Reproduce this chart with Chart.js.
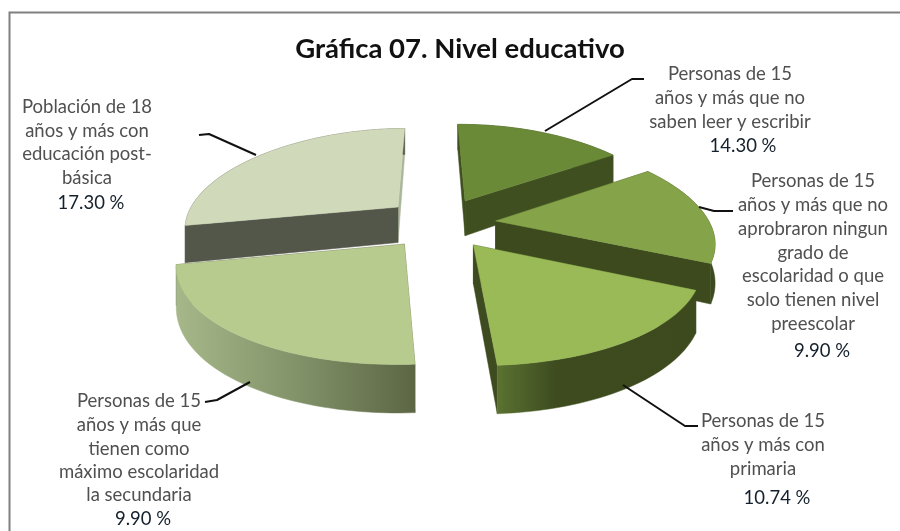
<!DOCTYPE html>
<html lang="es">
<head>
<meta charset="utf-8">
<title>Gráfica 07. Nivel educativo</title>
<script src="https://cdn.jsdelivr.net/npm/chart.js@4"></script>
<style>
html,body{margin:0;padding:0;background:#fff;overflow:hidden}
#box{position:absolute;left:0;top:0;width:900px;height:531px}
canvas{filter:blur(0.45px)}
</style>
</head>
<body>
<div id="box"><canvas id="c" width="900" height="531"></canvas></div>
<script>
// ---- data ----
const titleText = 'Gráfica 07. Nivel educativo';
const categories = [
  'Personas de 15 años y más que no saben leer y escribir',
  'Personas de 15 años y más que no aprobraron ningun grado de escolaridad o que solo tienen nivel preescolar',
  'Personas de 15 años y más con primaria',
  'Personas de 15 años y más que tienen como máximo escolaridad la secundaria',
  'Población de 18 años y más con educación post-básica'
];
// sizes of the slices as drawn, clockwise from 12 o'clock
const sliceValues = [9.90, 9.90, 10.74, 14.30, 17.30];
// the percentages printed beside each slice
const printedPercents = ['14.30 %', '9.90 %', '10.74 %', '9.90 %', '17.30 %'];

const labelLines = [
  ['Personas de 15', 'años y más que no', 'saben leer y escribir'],
  ['Personas de 15', 'años y más que no', 'aprobraron ningun', 'grado de', 'escolaridad o que', 'solo tienen nivel', 'preescolar'],
  ['Personas de 15', 'años y más con', 'primaria'],
  ['Personas de 15', 'años y más que', 'tienen como', 'máximo escolaridad', 'la secundaria'],
  ['Población de 18', 'años y más con', 'educación post-', 'básica']
];

// ---- styles ----
const topColors   = ['#6b8a38', '#85a348', '#9aba58', '#b8cb8f', '#d0dabb'];
const outerLeft   = ['#3f4f20', '#3c4a1e', '#5a7231', '#a6b789', '#52574a'];
const outerMid    = ['#3f4f20', '#3c4a1e', '#3d4b1f', '#82936a', '#52574a'];
const outerRight  = ['#3f4f20', '#3c4a1e', '#3c4a1e', '#5c6644', '#52574a'];
const cutStartCol = ['#3f4f20', '#3c4a1e', '#3c4a1e', '#5c6644', '#52574a'];
const cutEndCol   = ['#3f4f20', '#3c4a1e', '#3e4a1f', '#52574a', '#aab59a'];
const drawOrder   = [4, 0, 1, 3, 2];
const textGrey = '#505050', percentInk = '#14202c', leaderInk = '#111111';

// ---- layout of the annotations ----
const labelBoxes = [
  {x: 730, ys: [74, 98, 122], px: 743, py: 146},
  {x: 813, ys: [181, 205, 229, 253, 276, 300, 324], px: 822, py: 351},
  {x: 763, ys: [421, 445, 469], px: 777, py: 498},
  {x: 139, ys: [401, 425, 449, 472, 495], px: 143, py: 519},
  {x: 87,  ys: [107, 131, 154, 178], px: 91, py: 203}
];
const leaders = [
  [[644, 79], [632, 79], [545, 131]],
  [[699, 207], [714, 211], [733, 211]],
  [[623, 385], [685, 426], [698, 426]],
  [[250, 382], [217, 400], [205, 402]],
  [[199, 135], [209, 134], [256, 155]]
];
const view = {cx: 440, cy: 223, R: 214, offset: 56, k: 0.462, p: 0.154, q: 0.2, depth: 37, depthP: 0.255};

const pie3d = {
  id: 'pie3d',
  beforeDraw(chart) {
    const g = chart.ctx;
    g.save();
    g.strokeStyle = '#808080';
    g.lineWidth = 2;
    g.beginPath();
    g.moveTo(9.5, 531); g.lineTo(9.5, 12.5); g.lineTo(900, 12.5);
    g.stroke();
    g.restore();
  },
  beforeDatasetsDraw(chart) {
    const g = chart.ctx;
    const arcs = chart.getDatasetMeta(0).data;
    const sx = view.R / arcs[0].outerRadius;
    const project = (X, Y, arc, z) => {
      const u = (X - arc.x) * sx, v = (Y - arc.y) * sx;
      return [
        view.cx + u * (1 + view.q * v / view.R),
        view.cy + view.k * v * (1 + view.p * v / view.R) + z * view.depth * (1 + view.depthP * v / view.R)
      ];
    };
    const poly = (pts, fill) => {
      g.beginPath();
      pts.forEach((p, i) => i ? g.lineTo(p[0], p[1]) : g.moveTo(p[0], p[1]));
      g.closePath();
      g.fillStyle = fill;
      g.fill();
      g.strokeStyle = fill;
      g.lineWidth = 0.5;
      g.stroke();
    };
    drawOrder.forEach(i => {
      const arc = arcs[i];
      const {startAngle: a0, endAngle: a1, outerRadius: r} = arc;
      const mid = (a0 + a1) / 2, off = view.offset / sx;
      const ax = arc.x + Math.cos(mid) * off, ay = arc.y + Math.sin(mid) * off;
      const rim = [];
      const n = Math.max(8, Math.ceil((a1 - a0) / 0.03));
      for (let j = 0; j <= n; j++) {
        const t = a0 + (a1 - a0) * j / n;
        rim.push([ax + Math.cos(t) * r, ay + Math.sin(t) * r]);
      }
      const top = rim.map(p => project(p[0], p[1], arc, 0));
      const low = rim.map(p => project(p[0], p[1], arc, 1));
      const apexTop = project(ax, ay, arc, 0), apexLow = project(ax, ay, arc, 1);
      // cut faces, the one nearer the back first
      const cutA = {pts: [apexTop, top[0], low[0], apexLow], col: cutStartCol[i], y: top[0][1]};
      const cutB = {pts: [apexTop, top[n], low[n], apexLow], col: cutEndCol[i], y: top[n][1]};
      (cutA.y < cutB.y ? [cutA, cutB] : [cutB, cutA]).forEach(c => poly(c.pts, c.col));
      // rim face
      const xs = top.map(p => p[0]);
      const grad = g.createLinearGradient(Math.min(...xs), 0, Math.max(...xs), 0);
      grad.addColorStop(0, outerLeft[i]);
      grad.addColorStop(i === 2 ? 0.3 : 0.5, outerMid[i]);
      grad.addColorStop(1, outerRight[i]);
      poly(top.concat(low.slice().reverse()), grad);
      // top face
      poly([apexTop].concat(top), arc.options.backgroundColor);
    });
    return false;
  },
  afterDraw(chart) {
    const g = chart.ctx;
    g.save();
    g.strokeStyle = leaderInk;
    g.lineWidth = 2;
    g.lineJoin = 'round';
    leaders.forEach(line => {
      g.beginPath();
      line.forEach((p, i) => i ? g.lineTo(p[0], p[1]) : g.moveTo(p[0], p[1]));
      g.stroke();
    });
    g.textAlign = 'center';
    g.textBaseline = 'middle';
    g.font = '18.5px Lato';
    labelBoxes.forEach((b, i) => {
      g.fillStyle = textGrey;
      labelLines[i].forEach((t, j) => g.fillText(t, b.x, b.ys[j]));
      g.fillStyle = percentInk;
      g.fillText(printedPercents[i], b.px, b.py);
    });
    g.restore();
  }
};

new Chart(document.getElementById('c'), {
  type: 'pie',
  data: {
    labels: categories,
    datasets: [{data: sliceValues, backgroundColor: topColors, borderWidth: 0, offset: 0}]
  },
  plugins: [pie3d],
  options: {
    responsive: false,
    animation: false,
    rotation: -0.7,
    layout: {padding: {left: 20, right: 0, top: 33, bottom: 0}},
    plugins: {
      legend: {display: false},
      tooltip: {enabled: false},
      title: {
        display: true,
        text: titleText,
        color: '#111111',
        font: {family: 'Lato', size: 27.5, weight: 'bold'},
        padding: 0
      }
    }
  }
});
</script>
</body>
</html>
